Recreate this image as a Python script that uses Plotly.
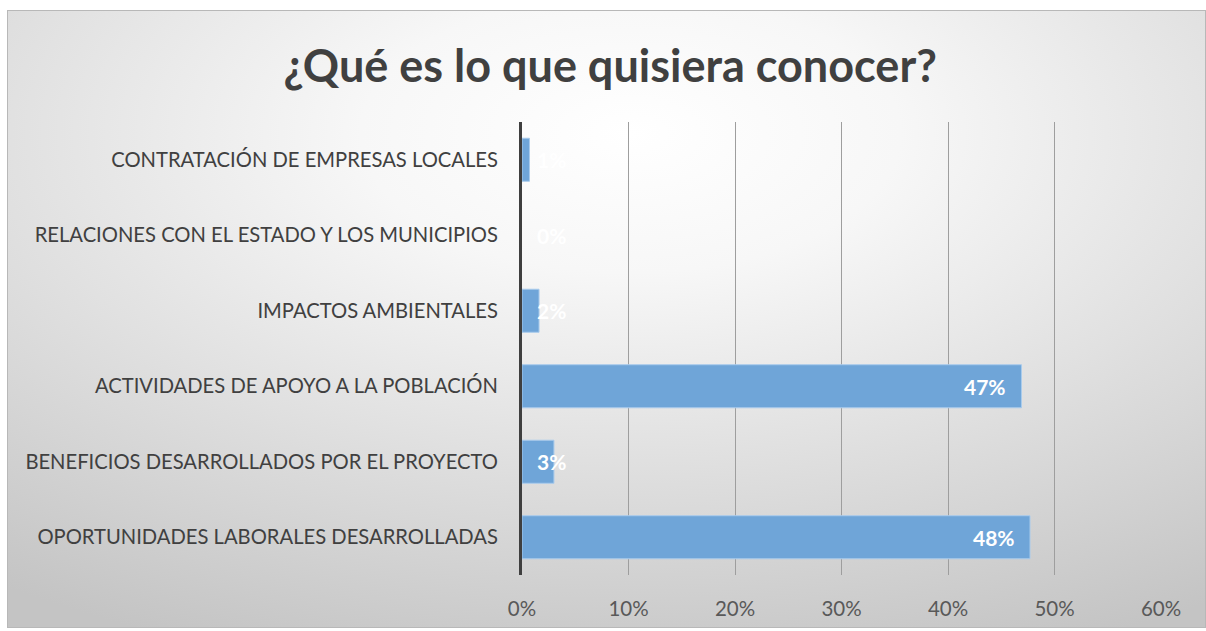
import base64
import plotly.graph_objects as go

# ---- data ----
categories = [
    "OPORTUNIDADES LABORALES DESARROLLADAS",
    "BENEFICIOS DESARROLLADOS POR EL PROYECTO",
    "ACTIVIDADES DE APOYO A LA POBLACIÓN",
    "IMPACTOS AMBIENTALES",
    "RELACIONES CON EL ESTADO Y LOS MUNICIPIOS",
    "CONTRATACIÓN DE EMPRESAS LOCALES",
]
values = [0.477, 0.030, 0.469, 0.016, 0.0, 0.007]
tick_vals = [0, 0.1, 0.2, 0.3, 0.4, 0.5, 0.6]
tick_text = ["0%", "10%", "20%", "30%", "40%", "50%", "60%"]
title_text = "¿Qué es lo que quisiera conocer?"

# ---- layout geometry (pixels) ----
W, H = 1206, 631
plot_l, plot_r, plot_t, plot_b = 522, 1161, 122, 575
frame_l, frame_t, frame_r, frame_b = 7, 10, 1206, 628

FONT = "Lato"

fig = go.Figure()
fig.add_trace(go.Bar(
    y=categories,
    x=values,
    orientation="h",
    marker=dict(color="#6fa5d8",
                line=dict(color="#a9cbec", width=[1 if v > 0 else 0 for v in values])),
    textposition="none",
    hoverinfo="x+y",
))

# data labels
annotations = []
for c, v in zip(categories, values):
    lab = f"{v:.0%}"
    if v > 0.1:
        annotations.append(dict(x=v, y=c, xref="x", yref="y", text=lab, showarrow=False,
                                xanchor="right", xshift=-13,
                                font=dict(family=FONT, size=21, color="white", weight="bold")))
    else:
        annotations.append(dict(x=0, y=c, xref="x", yref="y", text=lab, showarrow=False,
                                xanchor="left", xshift=13,
                                font=dict(family=FONT, size=21, color="white", weight="bold")))

# background gradient image
fw, fh = frame_r - frame_l, frame_b - frame_t
svg = f'''<svg xmlns="http://www.w3.org/2000/svg" width="{fw}" height="{fh}" viewBox="0 0 {fw} {fh}" preserveAspectRatio="none">
<defs><radialGradient id="g" cx="0.52" cy="0.2" r="0.9">
<stop offset="0" stop-color="#ffffff"/><stop offset="0.25" stop-color="#f7f7f7"/><stop offset="1" stop-color="#c4c4c4"/></radialGradient></defs>
<rect width="{fw}" height="{fh}" fill="url(#g)"/>
<rect x="0.5" y="0.5" width="{fw-1}" height="{fh-1}" fill="none" stroke="#b8b8b8" stroke-width="1"/>
</svg>'''
src = "data:image/svg+xml;base64," + base64.b64encode(svg.encode("utf-8")).decode("ascii")
pw, ph = plot_r - plot_l, plot_b - plot_t

fig.update_layout(
    width=W, height=H,
    margin=dict(l=plot_l, r=W - plot_r, t=plot_t, b=H - plot_b, pad=0),
    paper_bgcolor="white",
    plot_bgcolor="rgba(0,0,0,0)",
    showlegend=False,
    bargap=0.43,
    title=dict(text=title_text, x=0.506, xanchor="center", y=1 - 66 / H, yanchor="middle",
               font=dict(family=FONT, size=45, color="#404040", weight="bold")),
    images=[dict(source=src, xref="paper", yref="paper",
                 x=(frame_l - plot_l) / pw, y=(plot_b - frame_t) / ph,
                 sizex=fw / pw, sizey=fh / ph, xanchor="left", yanchor="top",
                 sizing="stretch", layer="below")],
    annotations=annotations,
    xaxis=dict(range=[0, 0.6], tickvals=tick_vals, ticktext=tick_text,
               showgrid=True, gridcolor="#9e9e9e", gridwidth=1, zeroline=False,
               ticks="", ticklabelstandoff=19,
               tickfont=dict(family=FONT, size=20.5, color="#595959"), fixedrange=True),
    yaxis=dict(showgrid=False, showline=True, linecolor="#3f3f3f", linewidth=3,
               ticks="", ticklabelstandoff=17, zeroline=False,
               tickfont=dict(family=FONT, size=20.2, color="#404040"), fixedrange=True),
)

fig.write_html("out.html", config={"displayModeBar": False},
               post_script="document.body.style.margin='0';document.body.style.overflow='hidden';")
